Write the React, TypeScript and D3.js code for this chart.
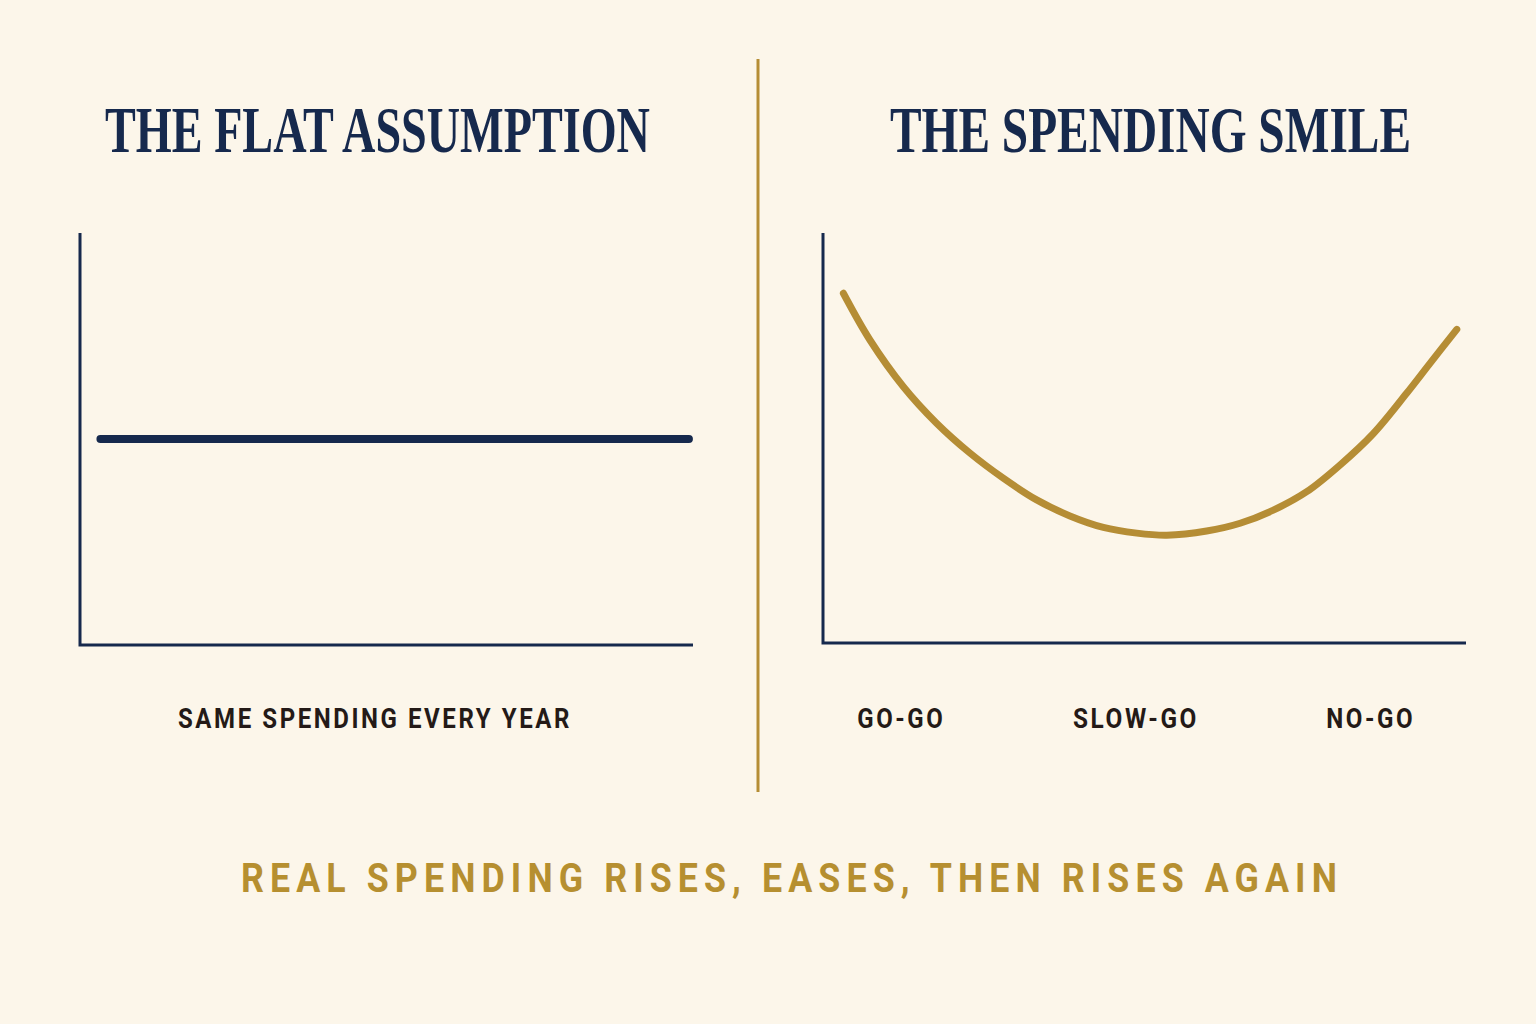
import React, { useLayoutEffect, useRef, useState } from "react";
import * as d3 from "d3";

// ---- data ----
const panelTitles = ["THE FLAT ASSUMPTION", "THE SPENDING SMILE"];
const flatLabel = "SAME SPENDING EVERY YEAR";
const phaseLabels = ["GO-GO", "SLOW-GO", "NO-GO"];
const footerText = "REAL SPENDING RISES, EASES, THEN RISES AGAIN";

// flat assumption: retirement year vs spending index
const flatYears = [1, 29.8];
const flatSpending = [50, 50];

// spending smile: retirement year vs spending index
const smileYears = [
  0.95, 2.19, 3.75, 5.3, 6.86, 8.41, 9.97, 11.52, 13.08, 14.64, 16.04, 17.9, 19.46, 21.01, 22.57, 24.12,
  25.68, 27.23, 28.32, 29.57,
];
const smileSpending = [
  85.3, 73.9, 62.5, 53.6, 46.3, 40.2, 34.9, 31.0, 28.2, 26.8, 26.3, 27.3, 29.2, 32.4, 36.9, 43.4, 51.1,
  60.9, 68.2, 76.5,
];

const W = 1536;
const H = 1024;
const BG = "#fcf6ea";
const NAVY = "#16294d";
const GOLD = "#b58d35";
const TEXT_DARK = "#241a17";

function CondensedTitle({ text, cx, y, width }: { text: string; cx: number; y: number; width: number }) {
  const ref = useRef<SVGTextElement>(null);
  const [sx, setSx] = useState(1);
  useLayoutEffect(() => {
    if (ref.current) {
      const w = ref.current.getComputedTextLength();
      if (w > 0) setSx(width / w);
    }
  }, [text, width]);
  return (
    <g transform={`translate(${cx},${y}) scale(${sx},1)`}>
      <text
        ref={ref}
        x={0}
        y={0}
        textAnchor="middle"
        fontFamily="'Liberation Serif', 'DejaVu Serif', serif"
        fontWeight={700}
        fontSize={65}
        fill={NAVY}
      >
        {text}
      </text>
    </g>
  );
}

export default function App() {
  // left chart scales
  const xL = d3.scaleLinear().domain([0, 30]).range([80, 693]);
  const yL = d3.scaleLinear().domain([0, 100]).range([645, 233]);
  // right chart scales
  const xR = d3.scaleLinear().domain([0, 30]).range([823, 1466]);
  const yR = d3.scaleLinear().domain([0, 100]).range([643, 233]);
  const phaseX = d3.scaleBand<string>().domain(phaseLabels).range([784, 1488]);

  const flatPts = flatYears.map((x, i) => [x, flatSpending[i]] as [number, number]);
  const smilePts = smileYears.map((x, i) => [x, smileSpending[i]] as [number, number]);

  const flatLine = d3
    .line<[number, number]>()
    .x((d) => xL(d[0]))
    .y((d) => yL(d[1]))(flatPts);
  const smileLine = d3
    .line<[number, number]>()
    .x((d) => xR(d[0]))
    .y((d) => yR(d[1]))
    .curve(d3.curveCatmullRom.alpha(0.5))(smilePts);

  const phaseWidths: Record<string, number> = { "GO-GO": 88, "SLOW-GO": 126, "NO-GO": 89 };

  return (
    <svg
      width={W}
      height={H}
      viewBox={`0 0 ${W} ${H}`}
      style={{ position: "absolute", left: 0, top: 0, display: "block" }}
    >
      <rect x={0} y={0} width={W} height={H} fill={BG} />

      {/* titles */}
      <CondensedTitle text={panelTitles[0]} cx={377.5} y={152} width={545} />
      <CondensedTitle text={panelTitles[1]} cx={1150.5} y={152} width={521} />

      {/* divider */}
      <line x1={758} x2={758} y1={59} y2={792} stroke={GOLD} strokeWidth={3} />

      {/* left axes */}
      <path
        d={`M${xL(0)},${yL(100)} V${yL(0)} H${xL(30)}`}
        fill="none"
        stroke={NAVY}
        strokeWidth={3}
      />
      <path d={flatLine || ""} fill="none" stroke={NAVY} strokeWidth={8} strokeLinecap="round" />

      {/* right axes */}
      <path
        d={`M${xR(0)},${yR(100)} V${yR(0)} H${xR(30)}`}
        fill="none"
        stroke={NAVY}
        strokeWidth={3}
      />
      <path d={smileLine || ""} fill="none" stroke={GOLD} strokeWidth={7} strokeLinecap="round" />

      {/* labels */}
      <text
        x={375}
        y={728}
        textAnchor="middle"
        fontFamily="Roboto, 'Liberation Sans', sans-serif"
        fontWeight={700}
        fontSize={28}
        letterSpacing={3}
        fill={TEXT_DARK}
        textLength={394}
        lengthAdjust="spacingAndGlyphs"
      >
        {flatLabel}
      </text>
      {phaseLabels.map((p) => (
        <text
          key={p}
          x={(phaseX(p) || 0) + phaseX.bandwidth() / 2}
          y={728}
          textAnchor="middle"
          fontFamily="Roboto, 'Liberation Sans', sans-serif"
          fontWeight={700}
          fontSize={28}
          letterSpacing={3}
          fill={TEXT_DARK}
          textLength={phaseWidths[p]}
          lengthAdjust="spacingAndGlyphs"
        >
          {p}
        </text>
      ))}

      {/* footer */}
      <text
        x={792}
        y={892}
        textAnchor="middle"
        fontFamily="Roboto, 'Liberation Sans', sans-serif"
        fontWeight={700}
        fontSize={41}
        letterSpacing={7}
        fill="#b68f30"
        textLength={1102}
        lengthAdjust="spacingAndGlyphs"
      >
        {footerText}
      </text>
    </svg>
  );
}
